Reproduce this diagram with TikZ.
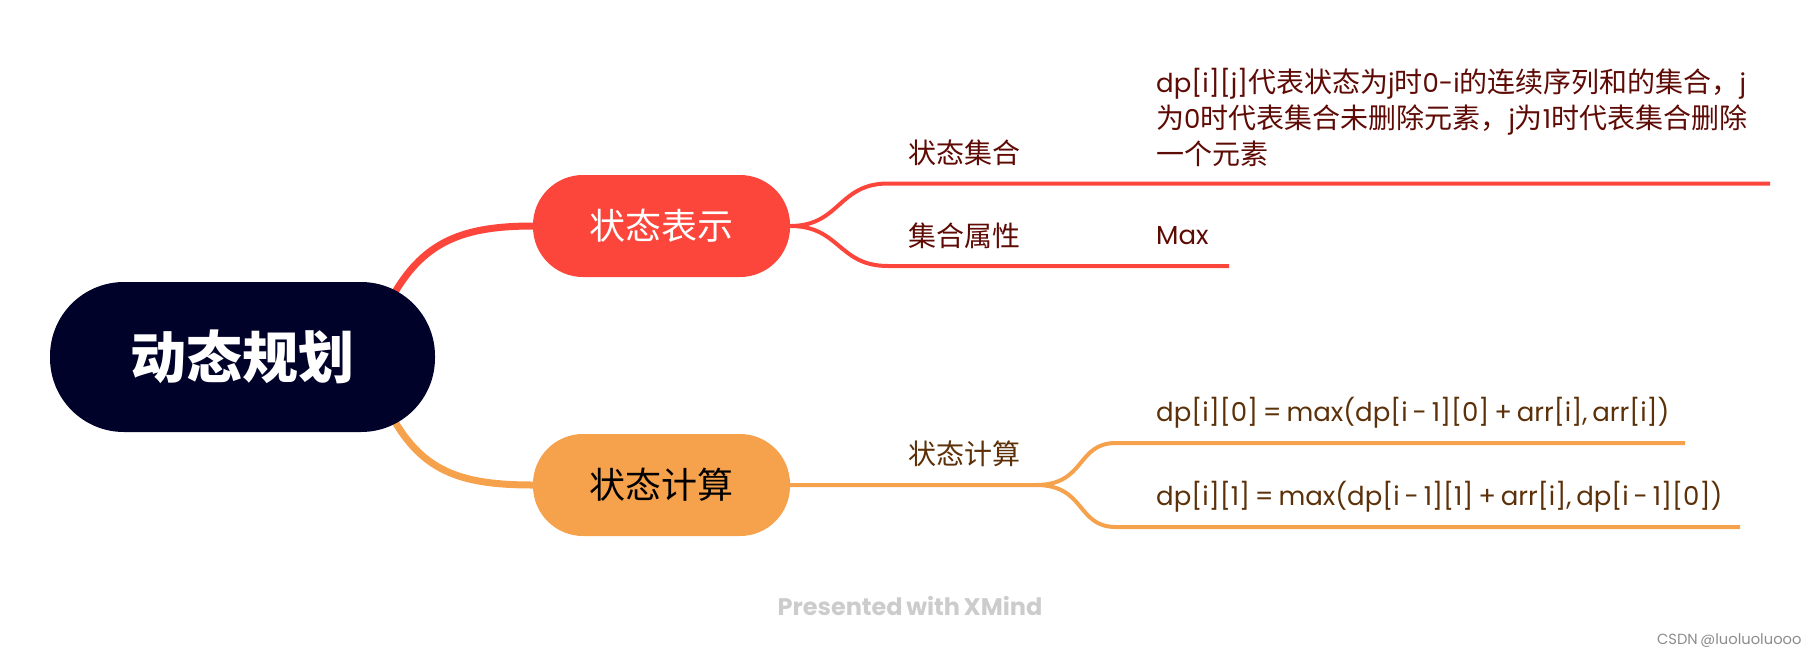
\documentclass[tikz,border=0pt]{standalone}
\usepackage{fontspec}
\setmainfont[WordSpace=0.7]{Poppins}
\newfontfamily\cjk{Noto Sans CJK SC}
\usetikzlibrary{positioning,backgrounds}
\definecolor{rootblue}{HTML}{000229}
\definecolor{redline}{HTML}{FC453B}
\definecolor{orangeline}{HTML}{F6A14C}
\definecolor{redtext}{HTML}{5E0A05}
\definecolor{browntext}{HTML}{5C3008}
\newcommand{\zh}[1]{{\cjk\fontsize{28}{36}\selectfont #1}}
\tikzset{
  rootbox/.style={fill=rootblue,text=white,rounded corners=74pt,minimum width=385pt,minimum height=150pt,inner sep=0pt,font=\cjk\bfseries\fontsize{56}{60}\selectfont},
  mainbox/.style={rounded corners=50pt,minimum width=257pt,minimum height=102pt,inner sep=0pt,font=\cjk\fontsize{36}{40}\selectfont},
  leaf/.style={anchor=west,inner sep=0pt,align=left,font=\fontsize{26}{36}\selectfont},
  redleaf/.style={leaf,text=redtext},
  brownleaf/.style={leaf,text=browntext},
  redlink/.style={draw=redline,line width=4pt},
  orangelink/.style={draw=orangeline,line width=4pt}
}
\begin{document}
\begin{tikzpicture}[x=1pt,y=-1pt]
        \useasboundingbox (0,0) rectangle (1820,656);
        % Boxes
        \node[rootbox] (root) at (242.5,357) {动态规划};
        \node[mainbox,fill=redline,text=white] (repr) at (661.5,226) {状态表示};
        \node[mainbox,fill=orangeline,text=black] (calc) at (661.5,485) {状态计算};
        % Red branch
        \node[redleaf] (setname) at (908,153) {\zh{状态集合}};
        \node[redleaf] (propname) at (908,236) {\zh{集合属性}};
        \node[redleaf] (settext) at (1156,117) {dp[i][j]\zh{代表状态为}j\zh{时}0-i\zh{的连续序列和的集合，}j\\\zh{为}0\zh{时代表集合未删除元素，}j\zh{为}1\zh{时代表集合删除}\\\zh{一个元素}};
        \node[redleaf] (proptext) at (1156,236) {Max};
        \coordinate (setbend) at (888,183.5);
        \coordinate (setend) at (1770,183.5);
        \coordinate (propbend) at (888,266);
        \coordinate (propend) at (1229,266);
        % Orange branch
        \node[brownleaf] (calcname) at (908,454) {\zh{状态计算}};
        \node[brownleaf] (calctop) at (1156,413) {dp[i][0] = max(dp[i - 1][0] + arr[i], arr[i])};
        \node[brownleaf] (calcbot) at (1156,497) {dp[i][1] = max(dp[i - 1][1] + arr[i], dp[i - 1][0])};
        \coordinate (calcfork) at (1036,485);
        \coordinate (topbend) at (1116,443);
        \coordinate (topend) at (1685,443);
        \coordinate (botbend) at (1116,527);
        \coordinate (botend) at (1740,527);
        % Footer
        \node[text=black!20,font=\bfseries\fontsize{24}{28}\selectfont] (credit) at (910,606) {Presented with XMind};
        \node[text=black!45,anchor=east,font=\fontsize{14.7}{18}\selectfont] (mark) at (1805,641) {CSDN @luoluoluooo};
        % Links
        \begin{scope}[on background layer]
            \draw[redline,line width=7pt] (root.north east) ++(-40,10) .. controls +(30,-50) and +(-70,0) .. (repr.west);
            \draw[orangeline,line width=7pt] (root.south east) ++(-40,-10) .. controls +(30,50) and +(-70,0) .. (calc.west);
            \draw[redlink] (repr.east) .. controls +(50,0) and +(-50,0) .. (setbend) -- (setend);
            \draw[redlink] (repr.east) .. controls +(50,0) and +(-50,0) .. (propbend) -- (propend);
            \draw[orangelink] (calc.east) -- (calcfork) .. controls +(50,0) and +(-40,0) .. (topbend) -- (topend);
            \draw[orangelink] (calcfork) .. controls +(50,0) and +(-40,0) .. (botbend) -- (botend);
        \end{scope}
    \end{tikzpicture}
\end{document}
